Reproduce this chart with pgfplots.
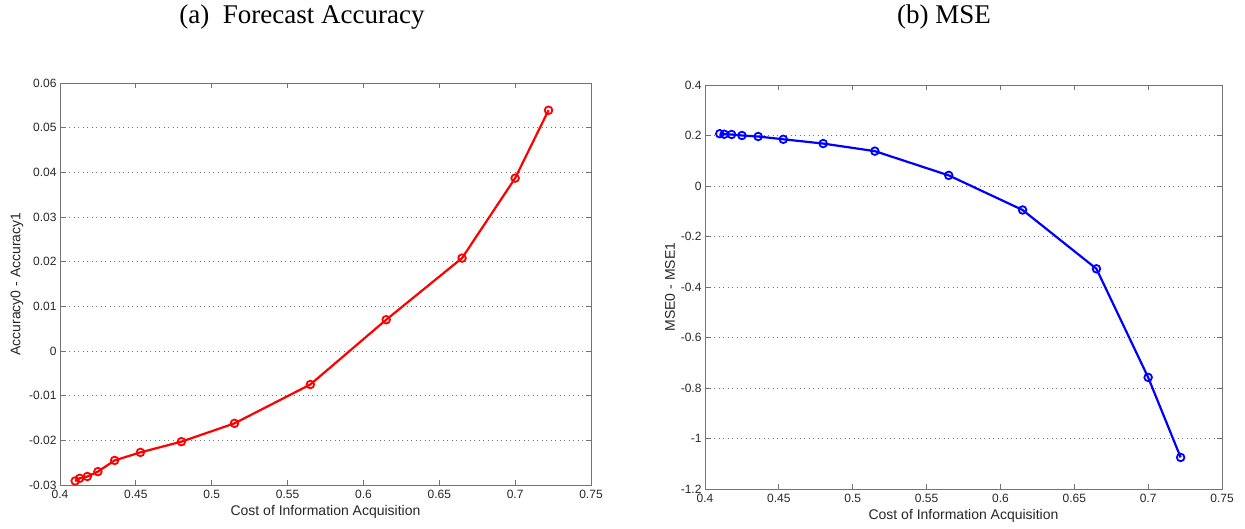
\documentclass[border=0pt]{standalone}
\usepackage{fontspec}
\setmainfont{Liberation Sans}
\newfontfamily\titlefont{Liberation Serif}
\usepackage{pgfplots}
\pgfplotsset{compat=1.18}
\definecolor{axgray}{gray}{0.45}
\definecolor{txtgray}{gray}{0.15}
\pgfplotsset{
  mstyle/.style={
    scale only axis,
    anchor=south west,
    axis line style={axgray, line width=0.8pt},
    tick style={axgray, line width=0.8pt},
    major tick length=5pt,
    tick align=inside,
    xtick pos=both, ytick pos=both,
    ymajorgrids,
    grid style={axgray, dash pattern=on 1pt off 3.5pt, line width=0.8pt},
    ticklabel style={font=\fontsize{12}{14}\selectfont, text=txtgray},
    xticklabel style={yshift=-2pt},
    label style={font=\fontsize{14}{16}\selectfont, text=txtgray},
    scaled ticks=false,
    /pgf/number format/assume math mode=true,
    /pgf/number format/fixed,
    /pgf/number format/precision=2,
    xmin=0.4, xmax=0.75,
    xtick={0.4,0.45,0.5,0.55,0.6,0.65,0.7,0.75},
    xticklabels={0.4,0.45,0.5,0.55,0.6,0.65,0.7,0.75},
    xlabel={Cost of Information Acquisition},
    xlabel style={yshift=1pt},
    every axis plot/.append style={line width=2.2pt, mark=o, mark size=3.8pt, mark options={line width=1.8pt}},
  }
}
\begin{document}
\begin{tikzpicture}[x=1pt,y=1pt]
\path (0,0) rectangle (1245,529);
\node[font=\titlefont\fontsize{27}{30}\selectfont] at (302,512) {(a)\ \ Forecast Accuracy};
\node[font=\titlefont\fontsize{27}{30}\selectfont] at (944,512) {(b) MSE};
\begin{axis}[mstyle,
  at={(60pt,44pt)}, width=531pt, height=402pt,
  ymin=-0.03, ymax=0.06,
  ytick={-0.03,-0.02,-0.01,0,0.01,0.02,0.03,0.04,0.05,0.06},
  yticklabels={-0.03,-0.02,-0.01,0,0.01,0.02,0.03,0.04,0.05,0.06},
  ylabel={Accuracy0 - Accuracy1},
  ylabel style={yshift=-1pt},
]
\addplot[red] coordinates {
(0.410,-0.0291) (0.413,-0.0285) (0.418,-0.0281) (0.425,-0.0270) (0.436,-0.0245)
(0.453,-0.0227) (0.480,-0.0203) (0.515,-0.0162) (0.565,-0.0075) (0.615,0.0070)
(0.665,0.0208) (0.700,0.0387) (0.722,0.0539)
};
\end{axis}
\begin{axis}[mstyle,
  at={(705pt,40pt)}, width=517pt, height=404pt,
  ymin=-1.2, ymax=0.4,
  ytick={-1.2,-1,-0.8,-0.6,-0.4,-0.2,0,0.2,0.4},
  yticklabels={-1.2,-1,-0.8,-0.6,-0.4,-0.2,0,0.2,0.4},
  ylabel={MSE0 - MSE1},
  ylabel style={yshift=-1pt},
]
\addplot[blue] coordinates {
(0.410,0.207) (0.413,0.205) (0.418,0.204) (0.425,0.200) (0.436,0.196)
(0.453,0.185) (0.480,0.168) (0.515,0.138) (0.565,0.042) (0.615,-0.095)
(0.665,-0.328) (0.700,-0.758) (0.722,-1.075)
};
\end{axis}
\end{tikzpicture}
\end{document}
